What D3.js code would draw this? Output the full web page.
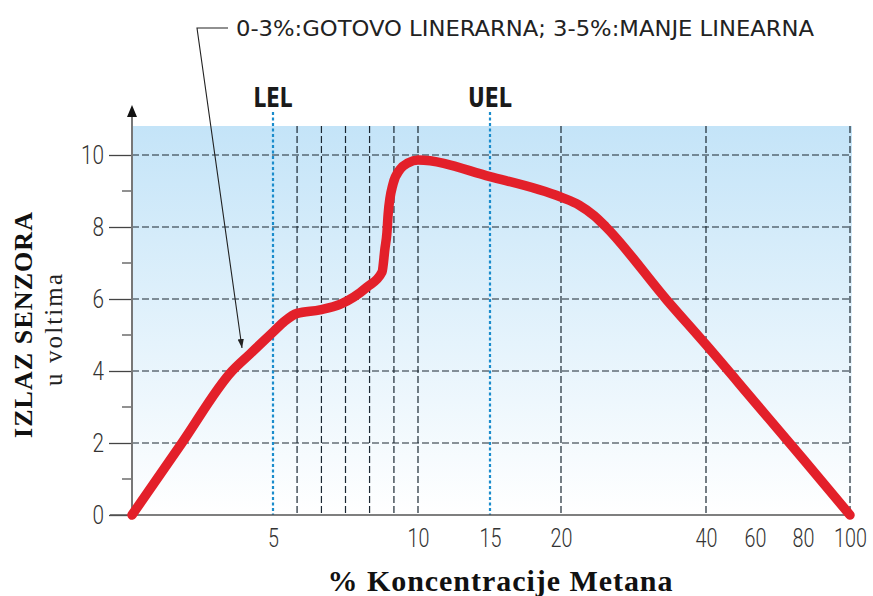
<!DOCTYPE html>
<html>
<head>
<meta charset="utf-8">
<script src="https://cdn.jsdelivr.net/npm/d3@7"></script>
<style>
  body { margin: 0; background: #fff; }
  .cond { font-family: "Liberation Sans Narrow", "DejaVu Sans Condensed", "Roboto Condensed", Roboto, sans-serif; }
  .num { font-family: Roboto, "DejaVu Sans Condensed", sans-serif; font-weight: 300; }
</style>
</head>
<body>
<svg id="chart" width="873" height="596"></svg>
<script>
// Data (% methane -> sensor output in volts)
var concentration = [0, 1.77, 3.55, 4.18, 5, 5.41, 5.83, 6.62, 7.31, 8.24, 8.76, 8.86, 8.93, 8.97, 9.14, 9.38, 9.66, 10, 15, 20, 22.5, 24.6, 26.2, 34.6, 40, 60, 80, 100];
var voltage       = [0, 2.0, 4.0, 4.47, 5.08, 5.39, 5.6, 5.7, 5.85, 6.33, 6.75, 7.4, 7.85, 8.35, 9.2, 9.6, 9.78, 9.86, 9.4, 8.83, 8.61, 8.31, 8.0, 5.97, 4.73, 3.13, 1.56, 0];

var xTickValues = [5, 10, 15, 20, 40, 60, 80, 100];
var yTickValues = [0, 2, 4, 6, 8, 10];
var yMinorTicks = [1, 3, 5, 7, 9];
var gridMinor = [5.83, 6.67, 7.5, 8.33, 9.17];
var gridMajor = [10, 20, 40, 100];
var limitNames = ["LEL", "UEL"];
var limitValues = [5, 15];

var svg = d3.select("#chart");

// the x axis is not linear: piecewise scale
var x = d3.scaleLinear()
    .domain([0, 5, 10, 15, 20, 40, 60, 80, 100])
    .range([132, 273, 418, 490, 561, 706, 755, 803, 850]);
var y = d3.scaleLinear().domain([0, 10]).range([515, 155]);

var plotTop = 126, plotRight = 852;

// background gradient + arrow marker
var defs = svg.append("defs");
var grad = defs.append("linearGradient").attr("id", "bg")
    .attr("x1", 0).attr("y1", 0).attr("x2", 0).attr("y2", 1);
grad.append("stop").attr("offset", "0%").attr("stop-color", "#c4e4f8");
grad.append("stop").attr("offset", "100%").attr("stop-color", "#ffffff");

defs.append("marker").attr("id", "arrow")
    .attr("viewBox", "0 0 10 10").attr("refX", 10).attr("refY", 5)
    .attr("markerWidth", 9).attr("markerHeight", 9)
    .attr("markerUnits", "userSpaceOnUse")
    .attr("orient", "auto")
  .append("path").attr("d", "M0,1.5 L10,5 L0,8.5 Z").attr("fill", "#222");

svg.append("rect")
    .attr("x", x(0)).attr("y", plotTop)
    .attr("width", plotRight - x(0)).attr("height", y(0) - plotTop)
    .attr("fill", "url(#bg)");

// horizontal grid
svg.append("g").selectAll("line").data(yTickValues.filter(function(d) { return d > 0; }))
  .enter().append("line")
    .attr("x1", x(0)).attr("x2", plotRight)
    .attr("y1", function(d) { return y(d); }).attr("y2", function(d) { return y(d); })
    .attr("stroke", "#1c2833").attr("stroke-width", 1.2)
    .attr("stroke-dasharray", "7,3");

// vertical grid
svg.append("g").selectAll("line").data(gridMinor.concat(gridMajor))
  .enter().append("line")
    .attr("x1", function(d) { return x(d); }).attr("x2", function(d) { return x(d); })
    .attr("y1", plotTop).attr("y2", y(0))
    .attr("stroke", "#1c2833").attr("stroke-width", 1.2)
    .attr("stroke-dasharray", "7,3");

// LEL / UEL
var lim = svg.append("g");
lim.selectAll("line").data(limitValues).enter().append("line")
    .attr("x1", function(d) { return x(d); }).attr("x2", function(d) { return x(d); })
    .attr("y1", 112).attr("y2", y(0))
    .attr("stroke", "#1a8ccc").attr("stroke-width", 2.2)
    .attr("stroke-dasharray", "3,2.5");
lim.selectAll("text").data(limitValues).enter().append("text")
    .attr("class", "cond")
    .attr("x", function(d) { return x(d); }).attr("y", 107)
    .attr("text-anchor", "middle")
    .attr("font-size", 26).attr("font-weight", "bold").attr("fill", "#1a1a1a")
    .attr("textLength", function(d, i) { return i == 0 ? 39 : 44; })
    .attr("lengthAdjust", "spacingAndGlyphs")
    .text(function(d, i) { return limitNames[i]; });

// minor y ticks
svg.append("g").selectAll("line").data(yMinorTicks).enter().append("line")
    .attr("x1", 122).attr("x2", x(0))
    .attr("y1", function(d) { return y(d); }).attr("y2", function(d) { return y(d); })
    .attr("stroke", "#555").attr("stroke-width", 1.3);

// y axis
var yAxis = svg.append("g")
    .attr("transform", "translate(" + x(0) + ",0)")
    .call(d3.axisLeft(y).tickValues(yTickValues).tickSize(23).tickPadding(5));
yAxis.select(".domain").remove();
yAxis.selectAll(".tick line").attr("stroke", "#444").attr("stroke-width", 1.3);
yAxis.selectAll(".tick text").attr("class", "num")
    .attr("font-size", 26).attr("fill", "#333")
    .attr("textLength", function(d) { return String(d).length * 11.5; })
    .attr("lengthAdjust", "spacingAndGlyphs");

// axis lines
svg.append("line").attr("x1", 110).attr("x2", plotRight)
    .attr("y1", y(0)).attr("y2", y(0))
    .attr("stroke", "#555").attr("stroke-width", 1.6);
svg.append("line").attr("x1", x(0)).attr("x2", x(0))
    .attr("y1", y(0)).attr("y2", 116)
    .attr("stroke", "#777").attr("stroke-width", 2);
svg.append("path")
    .attr("d", "M" + (x(0) - 5) + ",117 L" + x(0) + ",105 L" + (x(0) + 5) + ",117 Z")
    .attr("fill", "#111");

// x tick labels (condensed by a horizontal squeeze)
var xAxis = svg.append("g")
    .attr("transform", "translate(0," + y(0) + ")")
    .call(d3.axisBottom(x).tickValues(xTickValues).tickSize(0).tickPadding(14));
xAxis.select(".domain").remove();
xAxis.selectAll(".tick text").attr("class", "num")
    .attr("font-size", 26).attr("fill", "#333")
    .attr("transform", "scale(0.76,1)");

// sensor curve
var line = d3.line()
    .x(function(d, i) { return x(concentration[i]); })
    .y(function(d) { return y(d); })
    .curve(d3.curveMonotoneX);
svg.append("path")
    .datum(voltage)
    .attr("d", line)
    .attr("fill", "none")
    .attr("stroke", "#e3202a")
    .attr("stroke-width", 9.5)
    .attr("stroke-linejoin", "round")
    .attr("stroke-linecap", "round");

// annotation
svg.append("path")
    .attr("d", "M228,28 L197,28 L242,348")
    .attr("fill", "none").attr("stroke", "#222").attr("stroke-width", 1.1)
    .attr("marker-end", "url(#arrow)");
svg.append("text").attr("class", "cond")
    .attr("x", 236).attr("y", 36)
    .attr("font-size", 22).attr("fill", "#222")
    .attr("textLength", 578).attr("lengthAdjust", "spacingAndGlyphs")
    .text("0-3%:GOTOVO LINERARNA; 3-5%:MANJE LINEARNA");

// axis titles
svg.append("text")
    .attr("x", 500).attr("y", 591)
    .attr("text-anchor", "middle")
    .attr("font-family", "'Liberation Serif', 'DejaVu Serif', serif")
    .attr("font-size", 30).attr("font-weight", "bold").attr("fill", "#111")
    .attr("textLength", 345).attr("lengthAdjust", "spacing")
    .text("% Koncentracije Metana");

svg.append("text")
    .attr("transform", "translate(32,325) rotate(-90)")
    .attr("text-anchor", "middle")
    .attr("font-family", "'Liberation Serif', 'DejaVu Serif', serif")
    .attr("font-size", 26).attr("font-weight", "bold").attr("fill", "#111")
    .attr("textLength", 226).attr("lengthAdjust", "spacing")
    .text("IZLAZ SENZORA");

svg.append("text")
    .attr("transform", "translate(62,330) rotate(-90)")
    .attr("text-anchor", "middle")
    .attr("font-family", "'Liberation Serif', 'DejaVu Serif', serif")
    .attr("font-size", 25).attr("fill", "#222")
    .attr("textLength", 112).attr("lengthAdjust", "spacing")
    .text("u voltima");
</script>
</body>
</html>
